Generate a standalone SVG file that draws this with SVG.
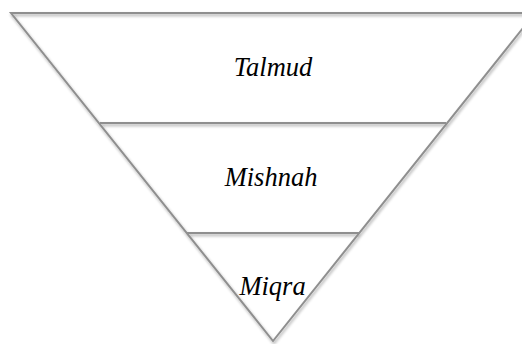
<svg xmlns="http://www.w3.org/2000/svg" width="522" height="344" viewBox="0 0 522 344">
<defs>
<filter id="sh" x="-10%" y="-10%" width="120%" height="120%">
<feGaussianBlur in="SourceAlpha" stdDeviation="1.5"/>
<feOffset dx="1" dy="2" result="b"/>
<feComponentTransfer><feFuncA type="linear" slope="0.35"/></feComponentTransfer>
<feMerge><feMergeNode/><feMergeNode in="SourceGraphic"/></feMerge>
</filter>
<style>
.ln{fill:none;stroke:#8f8f8f;stroke-width:2;stroke-linejoin:miter}
.lb{font-style:italic;font-size:26.5px;fill:#000;text-anchor:middle}
</style>
</defs>
<rect width="522" height="344" fill="#fff"/>
<g id="connectors" filter="url(#sh)">
<polygon class="ln" points="11,13 535,13 273,341"/>
<line class="ln" x1="100" y1="123" x2="446" y2="123"/>
<line class="ln" x1="187" y1="233" x2="359" y2="233"/>
</g>
<g id="talmud"><text class="lb" font-family="Liberation Serif, serif" x="273" y="76">Talmud</text></g>
<g id="mishnah"><text class="lb" font-family="Liberation Serif, serif" x="271" y="186">Mishnah</text></g>
<g id="miqra"><text class="lb" font-family="Liberation Serif, serif" x="272.5" y="295">Miqra</text></g>
</svg>
